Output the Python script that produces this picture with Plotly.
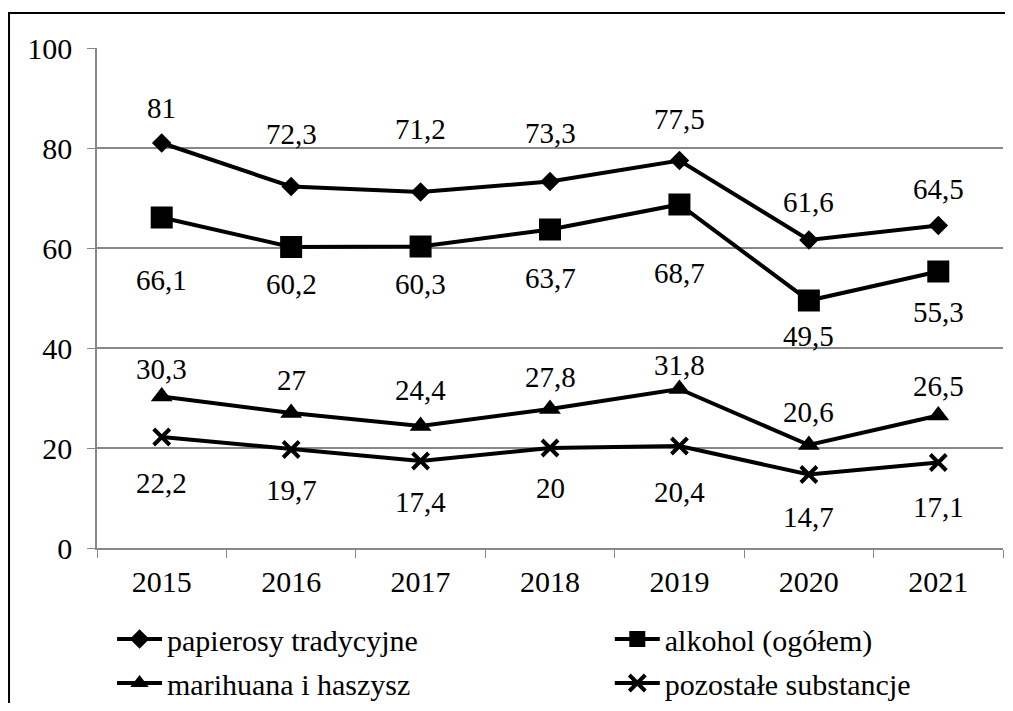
import plotly.graph_objects as go

lata = ["2015", "2016", "2017", "2018", "2019", "2020", "2021"]
papierosy = [81, 72.3, 71.2, 73.3, 77.5, 61.6, 64.5]
alkohol = [66.1, 60.2, 60.3, 63.7, 68.7, 49.5, 55.3]
marihuana = [30.3, 27, 24.4, 27.8, 31.8, 20.6, 26.5]
pozostale = [22.2, 19.7, 17.4, 20, 20.4, 14.7, 17.1]

nazwy = ["papierosy tradycyjne", "alkohol (ogółem)", "marihuana i haszysz", "pozostałe substancje"]

# przesuniecia etykiet (px), jak na oryginale
off_pap = [35, 53, 63, 49, 42, 38, 37]
off_alk = [-62, -37, -37, -48, -68, -35, -40]
off_mar = [28, 33, 36, 32, 24, 33, 30]
off_poz = [-46, -40, -41, -40, -46, -42, -44]

FONT = "Liberation Serif"
GRAY = "#888888"

serie = [
    (papierosy, nazwy[0], "diamond", 15, off_pap, "legend"),
    (alkohol, nazwy[1], "square", 22, off_alk, "legend2"),
    (marihuana, nazwy[2], "triangle-up", 19, off_mar, "legend3"),
    (pozostale, nazwy[3], "x-thin", 16, off_poz, "legend4"),
]

fig = go.Figure()
annotations = []
for vals, name, sym, size, offs, leg in serie:
    fig.add_trace(go.Scatter(
        x=lata, y=vals, name=name, mode="lines+markers",
        line=dict(color="black", width=4),
        marker=dict(symbol=sym, size=size, color="black",
                    line=dict(color="black", width=4 if sym == "x-thin" else 0)),
        legend=leg, showlegend=True,
    ))
    # etykiety danych (x jako indeks kategorii)
    for i, (yv, o) in enumerate(zip(vals, offs)):
        annotations.append(dict(
            x=i, y=yv, xref="x", yref="y", text=str(yv).replace(".", ","),
            showarrow=False, yshift=o,
            font=dict(size=29, color="black", family=FONT),
        ))


def leg(x, y):
    return dict(orientation="h", x=x, xanchor="left", y=y, yanchor="middle",
                itemwidth=45, font=dict(size=30, family=FONT, color="black"),
                bgcolor="rgba(0,0,0,0)")


fig.update_layout(
    width=997, height=695,
    margin=dict(l=89, r=2, t=40, b=155, autoexpand=False),
    paper_bgcolor="white", plot_bgcolor="white",
    font=dict(family=FONT, size=30, color="black"),
    showlegend=True,
    annotations=annotations,
    legend=leg(0.0166, -0.182),
    legend2=leg(0.566, -0.182),
    legend3=leg(0.0166, -0.27),
    legend4=leg(0.566, -0.27),
    shapes=[dict(type="rect", xref="paper", yref="paper",
                 x0=-0.0971, x1=1.05, y0=1.07, y1=-0.5,
                 line=dict(color="black", width=2), layer="above")],
)

fig.update_xaxes(
    type="category", range=[-0.5, 6.5], showgrid=False,
    showline=True, linecolor=GRAY, linewidth=1.5,
    ticks="outside", tickson="boundaries", ticklen=8, tickcolor=GRAY,
    ticklabelstandoff=6, tickfont=dict(size=30, family=FONT, color="black"),
)
fig.update_yaxes(
    range=[0, 100], tickvals=[0, 20, 40, 60, 80, 100],
    showgrid=True, gridcolor=GRAY, gridwidth=1.5, zeroline=False,
    showline=True, linecolor=GRAY, linewidth=1.5,
    ticks="outside", ticklen=8, tickcolor=GRAY,
    ticklabelstandoff=9, tickfont=dict(size=30, family=FONT, color="black"),
)

fig.write_html("out.html")
